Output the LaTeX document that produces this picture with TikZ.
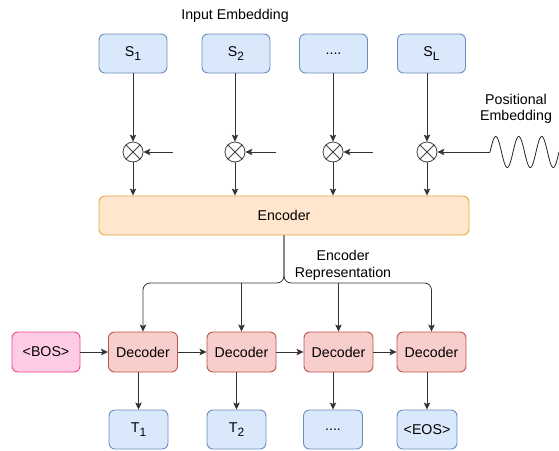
\documentclass[tikz,border=0pt]{standalone}
\usepackage{fontspec}
\setmainfont{Liberation Sans}
\usetikzlibrary{arrows.meta,positioning,calc}
\definecolor{tkfill}{HTML}{DAE8FC}
\definecolor{tkline}{HTML}{6C8EBF}
\definecolor{encfill}{HTML}{FFE6CC}
\definecolor{encline}{HTML}{E0AC3A}
\definecolor{decfill}{HTML}{F8CECC}
\definecolor{decline}{HTML}{B85450}
\definecolor{bosfill}{HTML}{FFCCE6}
\definecolor{bosline}{HTML}{F0468F}
\definecolor{wire}{HTML}{333333}
\newcommand{\lowidx}[1]{\raisebox{-0.45ex}{\fontsize{12}{12}\selectfont #1}}

\begin{document}
\begin{tikzpicture}[x=1pt,y=-1pt,>={Stealth[length=7pt,width=6.5pt,inset=1.5pt]},
    font=\fontsize{14.2}{16.5}\selectfont,
    box/.style={rounded corners=6pt,line width=0.9pt,minimum height=39pt,inner sep=0pt},
    token/.style={box,draw=tkline,fill=tkfill,minimum width=68pt},
    outtoken/.style={box,draw=tkline,fill=tkfill,minimum width=59pt},
    decbox/.style={box,draw=decline,fill=decfill,minimum width=69pt,minimum height=40pt},
    mulnode/.style={circle,draw=black!75,line width=0.8pt,minimum size=20pt,inner sep=0pt},
    link/.style={->,draw=wire,line width=0.8pt}]
    \useasboundingbox (0,0) rectangle (559,450);

    % input tokens
    \node (inlabel) at (235,16) {Input Embedding};
    \node[token] (s1) at (133,53.5) {S\lowidx{1}};
    \node[token] (s2) at (236,53.5) {S\lowidx{2}};
    \node[token] (s3) at (333.5,53.5) {....};
    \node[token] (s4) at (431.5,53.5) {S\lowidx{L}};

    % positional embedding
    \node[align=center] (poslabel) at (516,109) {Positional\\Embedding};
    \node[mulnode] (m1) at (133,152) {};
    \node[mulnode] (m2) at (235,152) {};
    \node[mulnode] (m3) at (333,152) {};
    \node[mulnode] (m4) at (427,152) {};
    \foreach \m in {m1,m2,m3,m4} {
      \draw[black!75,line width=0.8pt] (\m.north west) -- (\m.south east) (\m.north east) -- (\m.south west);
    }
    \coordinate (p1) at (173,152);
    \coordinate (p2) at (276,152);
    \coordinate (p3) at (373,152);
    \coordinate (wave) at (490,152);
    \draw[black!85,line width=0.8pt] plot[domain=0:69,samples=160] ({490+\x},{152-15.5*sin(\x/23*360)});

    \draw[link] (s1.south -| m1) -- (m1);
    \draw[link] (s2.south -| m2) -- (m2);
    \draw[link] (s3.south -| m3) -- (m3);
    \draw[link] (s4.south -| m4) -- (m4);
    \draw[link] (p1) -- (m1);
    \draw[link] (p2) -- (m2);
    \draw[link] (p3) -- (m3);
    \draw[link] (wave) -- (m4);

    % encoder
    \node[box,draw=encline,fill=encfill,minimum width=370pt] (enc) at (284,215.5) {Encoder};
    \foreach \m in {m1,m2,m3,m4} {
      \draw[link] (\m) -- (\m |- enc.north);
    }

    % decoders
    \node[box,draw=bosline,fill=bosfill,minimum width=68pt,minimum height=40pt] (bos) at (46,352) {<BOS>};
    \node[decbox] (d1) at (143,352) {Decoder};
    \node[decbox] (d2) at (241.5,352) {Decoder};
    \node[decbox] (d3) at (338.5,352) {Decoder};
    \node[decbox] (d4) at (431.5,352) {Decoder};
    \draw[link] (bos) -- (d1);
    \draw[link] (d1) -- (d2);
    \draw[link] (d2) -- (d3);
    \draw[link] (d3) -- (d4);

    % encoder representation bus
    \coordinate (bus) at (284,283);
    \node[align=center] (replabel) at (343,265.5) {Encoder\\Representation};
    \draw[link,rounded corners=7pt] (enc.south) -- (bus) -| (d1);
    \draw[link,rounded corners=7pt] (enc.south) -- (bus) -| (d4);
    \draw[link] (bus -| d2) -- (d2);
    \draw[link] (bus -| d3) -- (d3);

    % output tokens
    \node[outtoken] (t1) at (138.5,429.5) {T\lowidx{1}};
    \node[outtoken] (t2) at (236.5,429.5) {T\lowidx{2}};
    \node[outtoken] (t3) at (333,429.5) {....};
    \node[outtoken,minimum width=60pt] (t4) at (427,429.5) {<EOS>};
    \draw[link] (d1.south -| t1) -- (t1);
    \draw[link] (d2.south -| t2) -- (t2);
    \draw[link] (d3.south -| t3) -- (t3);
    \draw[link] (d4.south -| t4) -- (t4);
  \end{tikzpicture}
\end{document}
